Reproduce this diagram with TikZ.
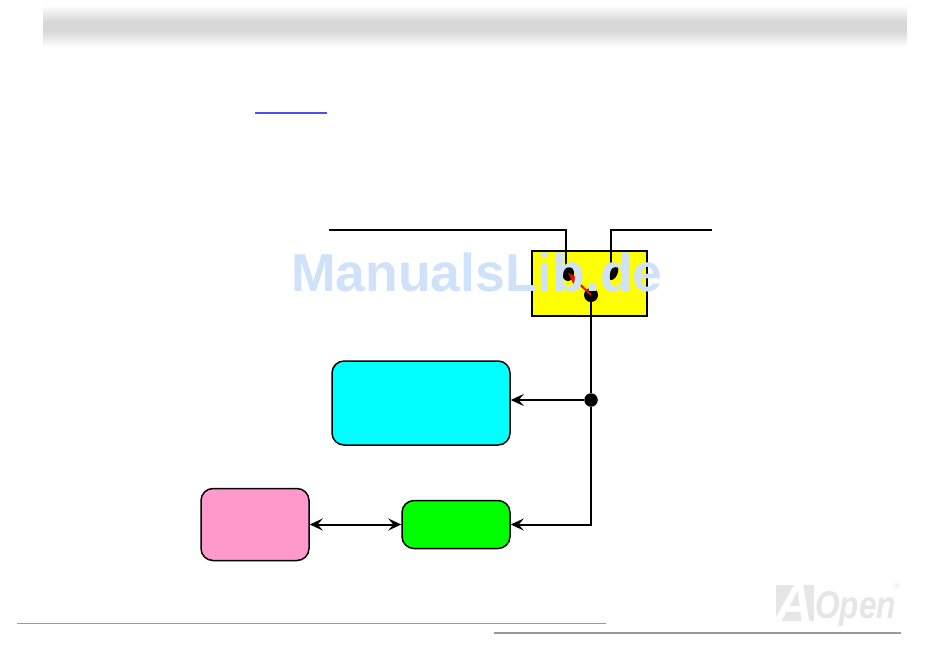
\documentclass[tikz,border=0pt]{standalone}
\usepackage{xcolor}
\usepackage{fontspec}
\setmainfont{Liberation Sans}
\usepackage{tikz}
\usetikzlibrary{shapes.geometric, arrows.meta}
\definecolor{headgray}{HTML}{D8D8D8}
\definecolor{rulegray}{HTML}{999999}
\definecolor{logogray}{HTML}{E6E6E6}
\definecolor{markblue}{HTML}{CFE2FA}
\definecolor{pinkfill}{HTML}{FF99CC}
\definecolor{cyanfill}{HTML}{00FFFF}
\definecolor{greenfill}{HTML}{00FF00}
\definecolor{yellowfill}{HTML}{FFFF00}
\definecolor{redarm}{HTML}{FF0000}
\definecolor{linkblue}{HTML}{5050F0}

\begin{document}
\begin{tikzpicture}[
        block/.style={draw, rounded corners=0.24cm, line width=0.03cm, inner sep=0pt},
        wire/.style={line width=0.04cm},
        dblwire/.style={line width=0.04cm, {Stealth[length=0.26cm,width=0.24cm,inset=0.1cm]}-{Stealth[length=0.26cm,width=0.24cm,inset=0.1cm]}},
        sglwire/.style={line width=0.04cm, -{Stealth[length=0.26cm,width=0.24cm,inset=0.1cm]}},
        dotnode/.style={circle, fill=black, inner sep=0pt, minimum size=0.27cm},
        pin/.style={ellipse, fill=black, inner sep=0pt, minimum width=0.18cm, minimum height=0.28cm}
        ]
        \useasboundingbox (0,0) rectangle (19,-12.98);
        \fill[white] (0,0) rectangle (19,-12.98);

        % Page header band
        \shade[top color=white, bottom color=headgray] (0.86,-0.10) rectangle (18.14,-0.42);
        \fill[headgray] (0.86,-0.42) rectangle (18.14,-0.62);
        \shade[top color=headgray, bottom color=white] (0.86,-0.62) rectangle (18.14,-0.94);

        % Link underline
        \draw[line width=0.03cm, linkblue] (5.10,-2.26) -- (6.54,-2.26);

        % Blocks
        \node[draw, fill=yellowfill, line width=0.04cm, inner sep=0pt, minimum width=2.3cm, minimum height=1.3cm] (switch) at (11.79,-5.67) {};
        \node[block, fill=cyanfill, minimum width=3.56cm, minimum height=1.68cm] (cyanblock) at (8.42,-8.06) {};
        \node[block, fill=pinkfill, minimum width=2.16cm, minimum height=1.44cm] (pinkblock) at (5.10,-10.49) {};
        \node[block, fill=greenfill, minimum width=2.16cm, minimum height=0.96cm] (greenblock) at (9.12,-10.49) {};

        % Switch contacts
        \node[pin, minimum width=0.24cm, minimum height=0.32cm] (pinL) at (11.36,-5.46) {};
        \node[pin, rotate=-25, minimum width=0.16cm, minimum height=0.3cm] (pinR) at (12.27,-5.46) {};
        \node[dotnode, minimum size=0.28cm] (pinC) at (11.82,-5.90) {};
        \node[dotnode] (junction) at (11.82,-8.0) {};

        % Lines coming in from the left and the right
        \coordinate (wireL) at (6.58,-4.60);
        \coordinate (wireR) at (14.24,-4.60);
        \coordinate (pinLtop) at (11.32,-5.30);
        \coordinate (pinRtop) at (12.22,-5.30);
        \draw[wire] (wireL) -| (pinLtop);
        \draw[wire] (wireR) -| (pinRtop);

        % Red switch arm
        \draw[line width=0.04cm, redarm, -{Stealth[length=0.28cm,width=0.2cm]}] (pinC.center) -- (pinL.center);

        % Bus down from the switch
        \draw[wire] (pinC) -- (junction);
        \draw[sglwire] (junction) -- (junction -| cyanblock.east);
        \draw[sglwire] (junction) |- (greenblock.east);
        \draw[dblwire] (pinkblock) -- (greenblock);

        % Page footer rules
        \draw[line width=0.025cm, rulegray] (0.34,-12.47) -- (12.12,-12.47);
        \draw[line width=0.025cm, rulegray] (9.88,-12.66) -- (18.02,-12.66);

        % Logo
        \node[fill=logogray, text=white, inner sep=0pt, minimum width=0.76cm, minimum height=0.72cm, font=\fontsize{30}{30}\selectfont\bfseries\itshape] (logoA) at (15.90,-12.06) {A};
        \node[anchor=base west, xscale=0.82, inner sep=0pt, text=logogray, font=\fontsize{22}{22}\selectfont\bfseries\itshape] (logoOpen) at (16.30,-12.36) {Open};
        \node[inner sep=0pt, text=logogray, font=\fontsize{5}{5}\selectfont] (logoR) at (17.94,-11.72) {®};

        % Watermark
        \node[anchor=base west, inner sep=0pt, text=markblue, font=\fontsize{30.4}{30.4}\selectfont\bfseries] (mark) at (5.82,-5.83) {ManualsLib.de};
    \end{tikzpicture}
\end{document}
